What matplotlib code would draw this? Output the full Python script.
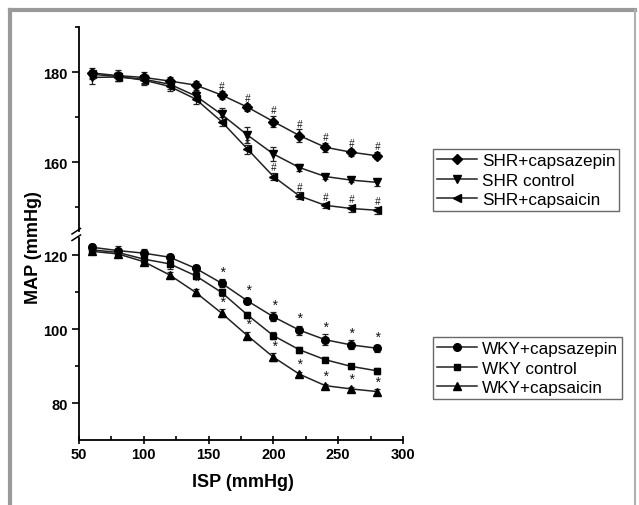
import numpy as np
import matplotlib
matplotlib.use('Agg')
import matplotlib.pyplot as plt
from matplotlib.lines import Line2D

plt.rcParams['font.family'] = ['Liberation Sans', 'DejaVu Sans']

# ISP steps (mmHg)
isp = [60, 80, 100, 120, 140, 160, 180, 200, 220, 240, 260, 280]

# SHR groups (upper panel)
shr_cpz = [179.8, 179.2, 178.8, 178.0, 177.1, 174.9, 172.2, 169.0, 165.9, 163.3, 162.2, 161.4]
shr_cpz_err = [1.2, 1.2, 1.2, 1.0, 1.0, 0.8, 0.8, 1.2, 1.4, 1.0, 0.8, 0.8]
shr_ctl = [178.8, 178.9, 178.4, 177.3, 174.7, 170.6, 166.0, 161.8, 158.8, 156.8, 156.0, 155.5]
shr_ctl_err = [1.5, 1.0, 1.0, 1.0, 1.0, 1.5, 1.8, 1.5, 0.8, 0.5, 0.5, 0.8]
shr_cap = [179.5, 179.0, 178.2, 176.8, 174.0, 169.0, 162.9, 156.8, 152.5, 150.4, 149.7, 149.3]
shr_cap_err = [1.0, 1.0, 1.0, 1.0, 1.0, 1.0, 1.0, 0.8, 0.8, 0.6, 0.8, 0.8]

# WKY groups (lower panel)
wky_cpz = [122.1, 121.2, 120.5, 119.4, 116.4, 112.4, 107.6, 103.3, 99.7, 97.1, 95.7, 94.8]
wky_cpz_err = [1.0, 1.2, 1.2, 1.0, 1.0, 1.0, 0.8, 1.2, 1.2, 1.5, 1.2, 1.0]
wky_ctl = [121.4, 120.7, 118.9, 117.6, 114.4, 109.9, 103.8, 98.2, 94.4, 91.7, 89.9, 88.7]
wky_ctl_err = [1.0, 1.0, 1.0, 1.5, 1.0, 1.0, 0.8, 1.0, 0.8, 0.6, 0.6, 0.8]
wky_cap = [121.0, 120.3, 118.2, 114.6, 109.9, 104.3, 98.2, 92.4, 87.8, 84.7, 83.8, 83.1]
wky_cap_err = [0.8, 0.8, 0.8, 0.8, 1.0, 1.0, 1.0, 1.0, 0.6, 0.5, 0.6, 0.6]

# significance marks (indices into isp)
hash_cpz = [5, 6, 7, 8, 9, 10, 11]
hash_cap = [6, 7, 8, 9, 10, 11]
star_cpz = [5, 6, 7, 8, 9, 10, 11]
star_cap = [4, 5, 6, 7, 8, 9, 10, 11]

fig = plt.figure(figsize=(6.39, 5.06), dpi=100)
fig.set_facecolor('white')

W, H = 639, 506
def fx(px):
    return px / W
def fy(py):
    return 1 - py / H

ax_top = fig.add_axes([fx(79), fy(232), fx(403) - fx(79), fy(28) - fy(232)])
ax_bot = fig.add_axes([fx(79), fy(441), fx(403) - fx(79), fy(239) - fy(441)])

line_col = '#222222'
kw = dict(color=line_col, lw=1.1, capsize=2.5, elinewidth=0.9, capthick=0.9,
          markerfacecolor='black', markeredgecolor='black')

h1 = ax_top.errorbar(isp, shr_cpz, yerr=shr_cpz_err, marker='D', ms=5, **kw)
h2 = ax_top.errorbar(isp, shr_ctl, yerr=shr_ctl_err, marker='v', ms=5.5, **kw)
h3 = ax_top.errorbar(isp, shr_cap, yerr=shr_cap_err, marker='<', ms=5.5, **kw)

h4 = ax_bot.errorbar(isp, wky_cpz, yerr=wky_cpz_err, marker='o', ms=5.5, **kw)
h5 = ax_bot.errorbar(isp, wky_ctl, yerr=wky_ctl_err, marker='s', ms=5, **kw)
h6 = ax_bot.errorbar(isp, wky_cap, yerr=wky_cap_err, marker='^', ms=5.5, **kw)

def marks(ax, vals, errs, idx, sym, size):
    for i in idx:
        ax.annotate(sym, (isp[i], vals[i] + errs[i]), xytext=(0, 0.5), textcoords='offset points',
                    ha='center', va='bottom', fontsize=size, fontstyle='italic', color='#111111')

marks(ax_top, shr_cpz, shr_cpz_err, hash_cpz, '#', 7)
marks(ax_top, shr_cap, shr_cap_err, hash_cap, '#', 7)
marks(ax_bot, wky_cpz, wky_cpz_err, star_cpz, '*', 10)
marks(ax_bot, wky_cap, wky_cap_err, star_cap, '*', 10)

ax_top.set_xlim(50, 300)
ax_bot.set_xlim(50, 300)
ax_top.set_ylim(144.7, 190)
ax_bot.set_ylim(70, 124.6)

ax_top.set_yticks([160, 180])
ax_top.set_yticks([150, 170, 190], minor=True)
ax_bot.set_yticks([80, 100, 120])
ax_bot.set_yticks([90, 110], minor=True)
ax_bot.set_xticks([50, 100, 150, 200, 250, 300])
ax_bot.set_xticks([75, 125, 175, 225, 275], minor=True)

for ax in (ax_top, ax_bot):
    for s in ('top', 'right'):
        ax.spines[s].set_visible(False)
    ax.spines['left'].set_linewidth(1.3)
    ax.spines['bottom'].set_linewidth(1.3)
    ax.tick_params(axis='y', which='major', direction='out', length=5, width=1.2, labelsize=10.5, pad=3)
    ax.tick_params(axis='y', which='minor', direction='out', length=3, width=1.2)
    for lab in ax.get_yticklabels():
        lab.set_fontweight('bold')
    ax.patch.set_alpha(0)

ax_top.spines['bottom'].set_visible(False)
ax_top.tick_params(axis='x', which='both', bottom=False, labelbottom=False)
ax_bot.tick_params(axis='x', which='major', direction='inout', length=6, width=1.2, labelsize=10.5, pad=2)
ax_bot.tick_params(axis='x', which='minor', direction='in', length=3, width=1.2)
for lab in ax_bot.get_xticklabels():
    lab.set_fontweight('bold')

# axis break marks
for y0 in (235, 241.5):
    fig.add_artist(Line2D([fx(72), fx(80.5)], [fy(y0), fy(y0 - 5.5)], color='black', lw=1.1))

fig.text(fx(34), fy(248), 'MAP (mmHg)', rotation=90, ha='center', va='center',
         fontsize=13, fontweight='bold')
fig.text(fx(243), fy(483), 'ISP (mmHg)', ha='center', va='center', fontsize=13, fontweight='bold')

leg_kw = dict(loc='upper left', fontsize=12.3, frameon=True, fancybox=False, edgecolor='#444444',
              handlelength=2.3, handletextpad=0.3, labelspacing=0.25, borderpad=0.25,
              borderaxespad=0, numpoints=1)
l1 = fig.legend([h1[0], h2[0], h3[0]], ['SHR+capsazepin', 'SHR control', 'SHR+capsaicin'],
                bbox_to_anchor=(fx(433), fy(150)), **leg_kw)
l2 = fig.legend([h4[0], h5[0], h6[0]], ['WKY+capsazepin', 'WKY control', 'WKY+capsaicin'],
                bbox_to_anchor=(fx(433), fy(338)), **leg_kw)
for l in (l1, l2):
    l.get_frame().set_linewidth(1.0)

# grey outer frame (top, left, right)
fig.add_artist(Line2D([fx(10), fx(635)], [fy(11), fy(11)], color='#9a9a9a', lw=3))
fig.add_artist(Line2D([fx(10), fx(10)], [fy(11), 0], color='#9a9a9a', lw=3))
fig.add_artist(Line2D([fx(635), fx(635)], [fy(11), 0], color='#b0b0b0', lw=1.5))

fig.savefig('out.png', dpi=100)
